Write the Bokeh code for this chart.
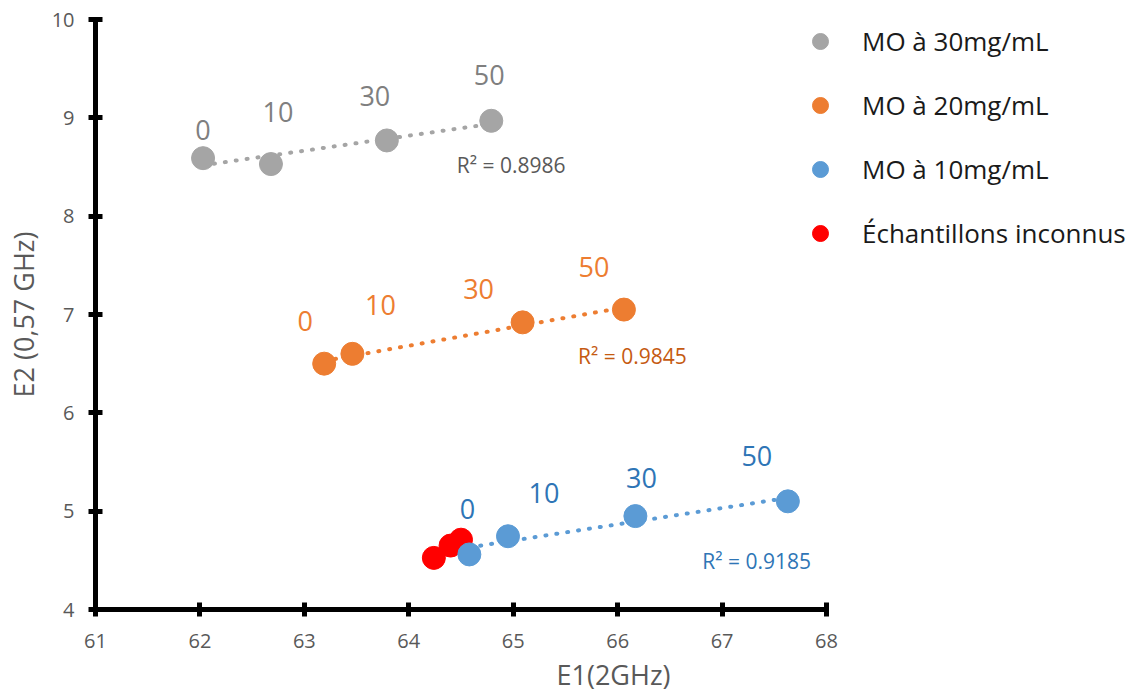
import numpy as np
from bokeh.plotting import figure
from bokeh.models import Range1d, Legend, LegendItem
from bokeh.core.properties import value
from bokeh.embed import file_html
from bokeh.resources import INLINE

# ---- data ----
conc_labels = ["0", "10", "30", "50"]

mo30_x = [62.03, 62.68, 63.79, 64.79]
mo30_y = [8.59, 8.53, 8.77, 8.97]

mo20_x = [63.19, 63.46, 65.09, 66.06]
mo20_y = [6.50, 6.60, 6.92, 7.05]

mo10_x = [64.58, 64.95, 66.17, 67.63]
mo10_y = [4.56, 4.745, 4.95, 5.10]

unk_x = [64.24, 64.40, 64.50]
unk_y = [4.525, 4.65, 4.71]

r2_values = ["0.8986", "0.9845", "0.9185"]
series_names = ["MO à 30mg/mL", "MO à 20mg/mL", "MO à 10mg/mL", "Échantillons inconnus"]
x_ticks = [61, 62, 63, 64, 65, 66, 67, 68]
y_ticks = [4, 5, 6, 7, 8, 9, 10]

# ---- styles / layout (not data) ----
marker_colors = ["#A5A5A5", "#ED7D31", "#5B9BD5", "#FF0000"]
label_colors = ["#7F7F7F", "#ED7D31", "#2E75B6"]
r2_colors = ["#595959", "#C55A11", "#2E75B6"]
label_dx = [[0, 7, -12, -2], [-19, 28, -44, -30], [-2, 36, 6, -31]]
label_dy = [[-28, -52, -44, -46], [-43, -49, -33, -43], [-45, -43, -38, -45]]
r2_pos = [(64.46, 8.52), (65.62, 6.58), (66.81, 4.49)]

FONT = "Open Sans"
W, H = 1131, 695
LEFT, TOP, AXIS_RIGHT, BOTTOM = 95, 19, 826, 610
px_per_unit = (AXIS_RIGHT - LEFT) / (x_ticks[-1] - x_ticks[0])
x_end = x_ticks[0] + (W - LEFT) / px_per_unit

p = figure(width=W, height=H, output_backend="svg", toolbar_location=None,
           x_range=Range1d(x_ticks[0], x_end), y_range=Range1d(y_ticks[0], y_ticks[-1]),
           min_border_left=LEFT, min_border_top=TOP, min_border_right=0,
           min_border_bottom=H - BOTTOM)
p.outline_line_color = None
p.grid.visible = False
p.background_fill_color = "white"

for ax in (p.xaxis[0], p.yaxis[0]):
    ax.axis_line_width = 5
    ax.axis_line_color = "black"
    ax.major_tick_line_width = 5
    ax.major_tick_line_color = "black"
    ax.major_tick_in = 7
    ax.major_tick_out = 7
    ax.minor_tick_line_color = None
    ax.major_label_text_font = FONT
    ax.major_label_text_font_size = "20px"
    ax.major_label_text_color = "#595959"
    ax.axis_label_text_font = FONT
    ax.axis_label_text_font_size = "27px"
    ax.axis_label_text_font_style = "normal"
    ax.axis_label_text_color = "#595959"

p.xaxis.ticker = x_ticks
p.yaxis.ticker = y_ticks
p.xaxis.bounds = (x_ticks[0], x_ticks[-1])
p.xaxis.axis_label = "E1(2GHz)"
p.yaxis.axis_label = "E2 (0,57 GHz)"
p.xaxis.major_label_standoff = 17
p.yaxis.major_label_standoff = 14
p.xaxis.axis_label_standoff = 5
p.yaxis.axis_label_standoff = 7

series = [(mo30_x, mo30_y), (mo20_x, mo20_y), (mo10_x, mo10_y)]

# trend lines (least squares fit over each series' range)
for i, (xs, ys) in enumerate(series):
    k, b = np.polyfit(xs, ys, 1)
    x0, x1 = min(xs), max(xs)
    p.line([x0, x1], [k * x0 + b, k * x1 + b], line_color=marker_colors[i],
           line_width=4, line_dash="1 10", line_cap="round")

renderers = []
for i, (xs, ys) in enumerate(series[:2]):
    r = p.scatter(xs, ys, size=23, fill_color=marker_colors[i], line_color=marker_colors[i])
    renderers.append(r)
r_unk = p.scatter(unk_x, unk_y, size=23, fill_color=marker_colors[3], line_color=marker_colors[3])
r_blue = p.scatter(mo10_x, mo10_y, size=23, fill_color=marker_colors[2], line_color=marker_colors[2])
renderers += [r_blue, r_unk]

# concentration labels
for i, (xs, ys) in enumerate(series):
    for j in range(len(xs)):
        p.text(x=[xs[j]], y=[ys[j]], text=[conc_labels[j]], x_offset=label_dx[i][j],
               y_offset=label_dy[i][j], text_align="center", text_baseline="middle",
               text_font=value(FONT), text_font_size="27px", text_color=label_colors[i])

# R² labels
for i in range(3):
    p.text(x=[r2_pos[i][0]], y=[r2_pos[i][1]], text=["R² = " + r2_values[i]],
           text_align="left", text_baseline="middle", text_font=value(FONT),
           text_font_size="21px", text_color=r2_colors[i])

legend = Legend(items=[LegendItem(label=series_names[k], renderers=[renderers[k]]) for k in range(4)],
                location=(705, 356), orientation="vertical",
                glyph_width=40, glyph_height=40, label_height=40, label_standoff=22,
                spacing=24, padding=0, margin=0,
                border_line_color=None, background_fill_alpha=0,
                label_text_font=FONT, label_text_font_size="26px",
                label_text_color="#1A1A1A", label_text_baseline="middle")
p.add_layout(legend, "center")

open("out.html", "w").write(file_html(p, INLINE))
